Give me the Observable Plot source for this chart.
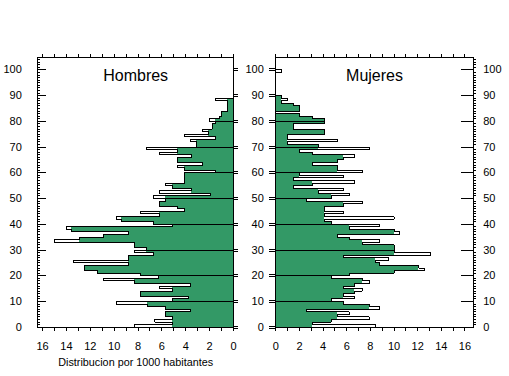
<!DOCTYPE html>
<html><head><meta charset="utf-8">
<script src="https://cdn.jsdelivr.net/npm/d3@7"></script>
<script src="https://cdn.jsdelivr.net/npm/@observablehq/plot@0.6"></script>
<style>
body{margin:0;background:#fff}
#wrap{position:relative;width:509px;height:376px}
#wrap svg{position:absolute;left:0;top:0}
</style>
</head><body><div id="wrap"></div>
<script>
const ages = d3.range(0, 101);
const hombres = [8.3, 5.1, 6.6, 5.1, 5.7, 5.7, 3.6, 5.7, 7.2, 9.8,
 5.1, 3.8, 7.8, 7.8, 5.1, 6.2, 3.6, 8.3, 10.9, 6.3,
 7.8, 11.4, 12.5, 12.5, 8.8, 13.4, 8.8, 8.8, 6.7, 8.3,
 7.3, 8.3, 8.3, 15.0, 12.9, 10.9, 8.8, 13.6, 14.0, 5.1,
 6.7, 9.4, 9.8, 6.2, 7.8, 4.1, 4.7, 6.2, 6.2, 5.7,
 6.7, 1.9, 6.2, 3.5, 5.1, 5.7, 4.1, 4.1, 4.1, 4.1,
 1.5, 4.1, 4.7, 2.6, 4.7, 4.7, 3.5, 6.2, 4.7, 7.3,
 3.1, 3.1, 3.6, 1.5, 4.1, 2.1, 2.6, 1.8, 1.8, 1.5,
 2.0, 1.2, 1.0, 1.0, 0.5, 0.5, 0.5, 0.5, 1.5, 0,
 0, 0, 0, 0, 0, 0, 0, 0, 0, 0, 0];
const mujeres = [8.4, 3.1, 4.7, 7.9, 5.2, 6.2, 2.6, 8.8, 7.9, 5.7,
 4.7, 6.7, 5.7, 6.7, 7.3, 5.7, 6.7, 7.9, 7.3, 4.7,
 6.2, 10.0, 12.6, 12.1, 8.8, 8.4, 9.5, 5.7, 13.1, 10.0,
 10.0, 10.0, 7.3, 8.8, 6.2, 5.2, 10.5, 10.0, 6.2, 8.8,
 4.7, 4.1, 10.0, 4.1, 5.7, 4.1, 4.1, 5.7, 7.3, 2.6,
 4.7, 6.2, 3.6, 5.7, 1.5, 3.1, 6.7, 1.5, 5.7, 2.0,
 7.3, 5.2, 5.2, 3.1, 5.2, 5.7, 6.7, 3.1, 2.0, 7.9,
 3.6, 1.0, 5.2, 1.0, 1.0, 4.1, 4.1, 1.5, 1.5, 4.1,
 4.1, 3.1, 2.0, 0, 2.0, 2.0, 1.5, 0.5, 1.0, 0.5,
 0, 0, 0, 0, 0, 0, 0, 0, 0, 0.5, 0];
const titles = ["Hombres", "Mujeres"];
const xLabel = "Distribucion por 1000 habitantes";
const xTicks = d3.range(0, 17);
const xTickLabels = d3.range(0, 17, 2);
const yMajor = d3.range(0, 101, 10);
const yMinor = d3.range(1, 105).filter(d => d % 10 !== 0);

const GREEN = "#339966";
const W = 509, H = 376;
const tickFont = "'Liberation Sans Narrow', 'Arial Narrow', Arial, sans-serif";
const textFont = "Arial, 'Liberation Sans', sans-serif";

function panelData(values) {
  const rows = values.map((v, i) => {
    const a = i > 0 ? values[i - 1] : 0;
    const b = i < values.length - 1 ? values[i + 1] : 0;
    const f = (v > a && v > b) ? Math.max(a, b) : v;   // thin spikes stay unfilled
    return {age: ages[i], v, f};
  });
  const steps = [{x: 0, y: 0}];
  rows.forEach(r => { steps.push({x: r.v, y: r.age}); steps.push({x: r.v, y: r.age + 1}); });
  steps.push({x: 0, y: ages[ages.length - 1] + 1});
  const decades = yMajor.filter(a => a > 0 && a < 100)
    .map(a => ({age: a, m: Math.min(values[a - 1], values[a])}))
    .filter(d => d.m > 0);
  return {rows: rows.filter(r => r.f > 0), steps, decades};
}

function panel({values, title, xDomain, mL, mR, side}) {
  const mT = 56.5, mB = 49.3;
  const pw = W - mL - mR, ph = H - mT - mB;
  const {rows, steps, decades} = panelData(values);
  const crisp = {shapeRendering: "crispEdges"};
  const marks = [
    Plot.rect(rows, {x1: d => 0, x2: "f", y1: "age", y2: d => d.age + 1, fill: GREEN, ...crisp}),
    Plot.ruleY(decades, {y: "age", x1: d => 0, x2: "m", stroke: "black", ...crisp}),
    Plot.line(steps, {x: "x", y: "y", stroke: "black", strokeWidth: 1, ...crisp}),
    Plot.frame({stroke: "black", ...crisp}),
    Plot.tickX(xTicks, {x: d => d, insetTop: -3, insetBottom: ph, stroke: "black", ...crisp}),
    Plot.tickX(xTicks, {x: d => d, insetTop: ph, insetBottom: -4, stroke: "black", ...crisp}),
    Plot.text(xTickLabels, {x: d => d, text: d => String(d), frameAnchor: "bottom", lineAnchor: "middle", dy: 19.5,
      fontSize: 11, fontFamily: tickFont, fill: "black"}),
    Plot.text([title], {text: d => d, frameAnchor: "top", lineAnchor: "middle", dy: 19, fontSize: 16, fontFamily: textFont, fill: "black"})
  ];
  if (side === "left") {
    marks.push(
      Plot.tickY(yMinor, {y: d => d, insetRight: pw - 3, stroke: "black", ...crisp}),
      Plot.tickY(yMajor, {y: d => d, insetRight: pw - 9, stroke: "black", ...crisp}),
      Plot.tickY(yMajor, {y: d => d, insetLeft: pw, insetRight: -5, dy: -1, stroke: "black", ...crisp}),
      Plot.tickY(yMajor, {y: d => d, insetLeft: pw, insetRight: -5, dy: 1, stroke: "black", ...crisp}),
      Plot.text(yMajor, {y: d => d, text: d => String(d), frameAnchor: "left", lineAnchor: "middle", dx: -16, textAnchor: "end",
        fontSize: 11, fontFamily: tickFont, fill: "black"}),
      Plot.text([xLabel], {text: d => d, frameAnchor: "bottom", lineAnchor: "middle", dy: 35.5, fontSize: 10.8, fontFamily: textFont, fill: "black"})
    );
  } else {
    marks.push(
      Plot.tickY(yMajor, {y: d => d, insetLeft: -6, insetRight: pw, dy: -1, stroke: "black", ...crisp}),
      Plot.tickY(yMajor, {y: d => d, insetLeft: -6, insetRight: pw, dy: 1, stroke: "black", ...crisp}),
      Plot.text(yMajor, {y: d => d, text: d => String(d), frameAnchor: "left", lineAnchor: "middle", dx: -12, textAnchor: "end",
        fontSize: 11, fontFamily: tickFont, fill: "black"}),
      Plot.tickY(yMajor, {y: d => d, insetLeft: pw - 12, stroke: "black", ...crisp}),
      Plot.tickY(yMinor, {y: d => d, insetLeft: pw, insetRight: -3, stroke: "black", ...crisp}),
      Plot.text(yMajor, {y: d => d, text: d => String(d), frameAnchor: "right", lineAnchor: "middle", dx: 10, textAnchor: "start",
        fontSize: 11, fontFamily: tickFont, fill: "black"})
    );
  }
  return Plot.plot({
    width: W, height: H,
    marginLeft: mL, marginRight: mR, marginTop: mT, marginBottom: mB,
    x: {domain: xDomain, axis: null},
    y: {domain: [0, 105], axis: null},
    style: {background: "transparent", overflow: "visible", fontFamily: textFont},
    marks
  });
}

const wrap = document.getElementById("wrap");
wrap.appendChild(panel({values: hombres, title: titles[0], xDomain: [16.4, 0], mL: 37.3, mR: W - 233, side: "left"}));
wrap.appendChild(panel({values: mujeres, title: titles[1], xDomain: [0, 16.7], mL: 275.3, mR: W - 472.7, side: "right"}));
</script>
</body></html>
